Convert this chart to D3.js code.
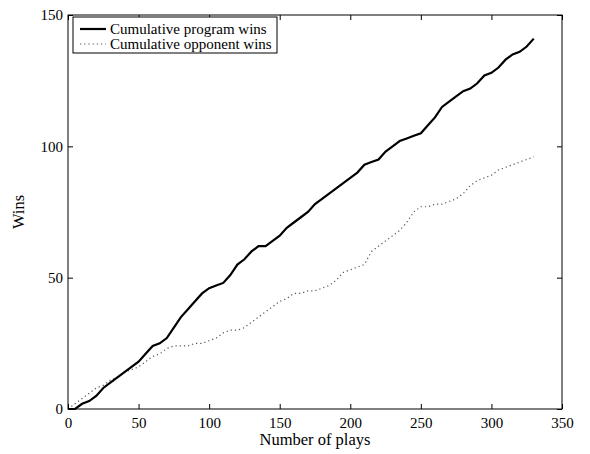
<!DOCTYPE html>
<html>
<head>
<meta charset="utf-8">
<script src="https://cdn.jsdelivr.net/npm/d3@7"></script>
<style>
body { margin: 0; background: #fff; }
text { font-family: "Liberation Serif", "DejaVu Serif", serif; }
</style>
</head>
<body>
<svg width="590" height="454"></svg>
<script>
// plays sampled every 5
var plays = d3.range(0, 331, 5);
var programWins = [0,0,2,3,5,8,10,12,14,16,18,21,24,25,27,31,35,38,41,44,46,47,48,51,55,57,60,62,62,64,66,69,71,73,75,78,80,82,84,86,88,90,93,94,95,98,100,102,103,104,105,108,111,115,117,119,121,122,124,127,128,130,133,135,136,138,141];
var opponentWins = [0,2,4,6,8,9,11,12,14,15,16,18,20,21,23,24,24,24,25,25,26,27,29,30,30,31,33,35,37,39,41,42,44,44,45,45,46,47,49,52,53,54,55,60,62,64,66,68,71,75,77,77,78,78,79,80,82,85,87,88,89,91,92,93,94,95,96];
var xTicks = [0,50,100,150,200,250,300,350];
var yTicks = [0,50,100,150];
var legendLabels = ["Cumulative program wins", "Cumulative opponent wins"];

// plot box (window.top is reserved, so use a box object)
var box = { left: 68, right: 562, top: 15, bottom: 409 };
var svg = d3.select("svg");

var x = d3.scaleLinear().domain([0, 350]).range([box.left, box.right]);
var y = d3.scaleLinear().domain([0, 150]).range([box.bottom, box.top]);

// frame
svg.append("rect")
	.attr("x", box.left).attr("y", box.top)
	.attr("width", box.right - box.left).attr("height", box.bottom - box.top)
	.attr("fill", "none").attr("stroke", "#000").attr("stroke-width", 1);

// axes with inward ticks on all four sides
svg.append("g").attr("transform", "translate(0," + box.bottom + ")")
	.call(d3.axisBottom(x).tickValues(xTicks).tickSizeInner(-5).tickSizeOuter(0).tickPadding(8));
svg.append("g").attr("transform", "translate(0," + box.top + ")")
	.call(d3.axisTop(x).tickValues(xTicks).tickSizeInner(-5).tickSizeOuter(0).tickFormat(""));
svg.append("g").attr("transform", "translate(" + box.left + ",0)")
	.call(d3.axisLeft(y).tickValues(yTicks).tickSizeInner(-5).tickSizeOuter(0).tickPadding(5));
svg.append("g").attr("transform", "translate(" + box.right + ",0)")
	.call(d3.axisRight(y).tickValues(yTicks).tickSizeInner(-5).tickSizeOuter(0).tickFormat(""));

svg.selectAll(".domain").remove();
svg.selectAll(".tick line").attr("stroke", "#000");
svg.selectAll(".tick text").attr("font-size", 15).attr("fill", "#000")
	.attr("font-family", "Liberation Serif, DejaVu Serif, serif");

// lines
var line = d3.line()
	.x(function(d, i) { return x(plays[i]); })
	.y(function(d) { return y(d); });

svg.append("path").datum(opponentWins)
	.attr("d", line)
	.attr("fill", "none")
	.attr("stroke", "#555")
	.attr("stroke-width", 1.2)
	.attr("stroke-dasharray", "1.2,3");

svg.append("path").datum(programWins)
	.attr("d", line)
	.attr("fill", "none")
	.attr("stroke", "#000")
	.attr("stroke-width", 2.2);

// axis labels
svg.append("text")
	.attr("x", (box.left + box.right) / 2).attr("y", 445)
	.attr("text-anchor", "middle").attr("font-size", 16.5)
	.text("Number of plays");

svg.append("text")
	.attr("transform", "translate(24," + (box.top + box.bottom) / 2 + ") rotate(-90)")
	.attr("text-anchor", "middle").attr("font-size", 16.5)
	.text("Wins");

// legend
var lg = svg.append("g");
lg.append("rect")
	.attr("x", 73).attr("y", 17).attr("width", 204).attr("height", 36)
	.attr("fill", "#fff").attr("stroke", "#000").attr("stroke-width", 1);

lg.append("line").attr("x1", 80).attr("x2", 106).attr("y1", 29).attr("y2", 29)
	.attr("stroke", "#000").attr("stroke-width", 2.2);
lg.append("line").attr("x1", 80).attr("x2", 106).attr("y1", 44).attr("y2", 44)
	.attr("stroke", "#555").attr("stroke-width", 1.2).attr("stroke-dasharray", "1.2,3");

lg.selectAll("text.lab").data(legendLabels).enter().append("text")
	.attr("class", "lab")
	.attr("x", 110)
	.attr("y", function(d, i) { return 34 + i * 15; })
	.attr("font-size", 15)
	.text(function(d) { return d; });
</script>
</body>
</html>
